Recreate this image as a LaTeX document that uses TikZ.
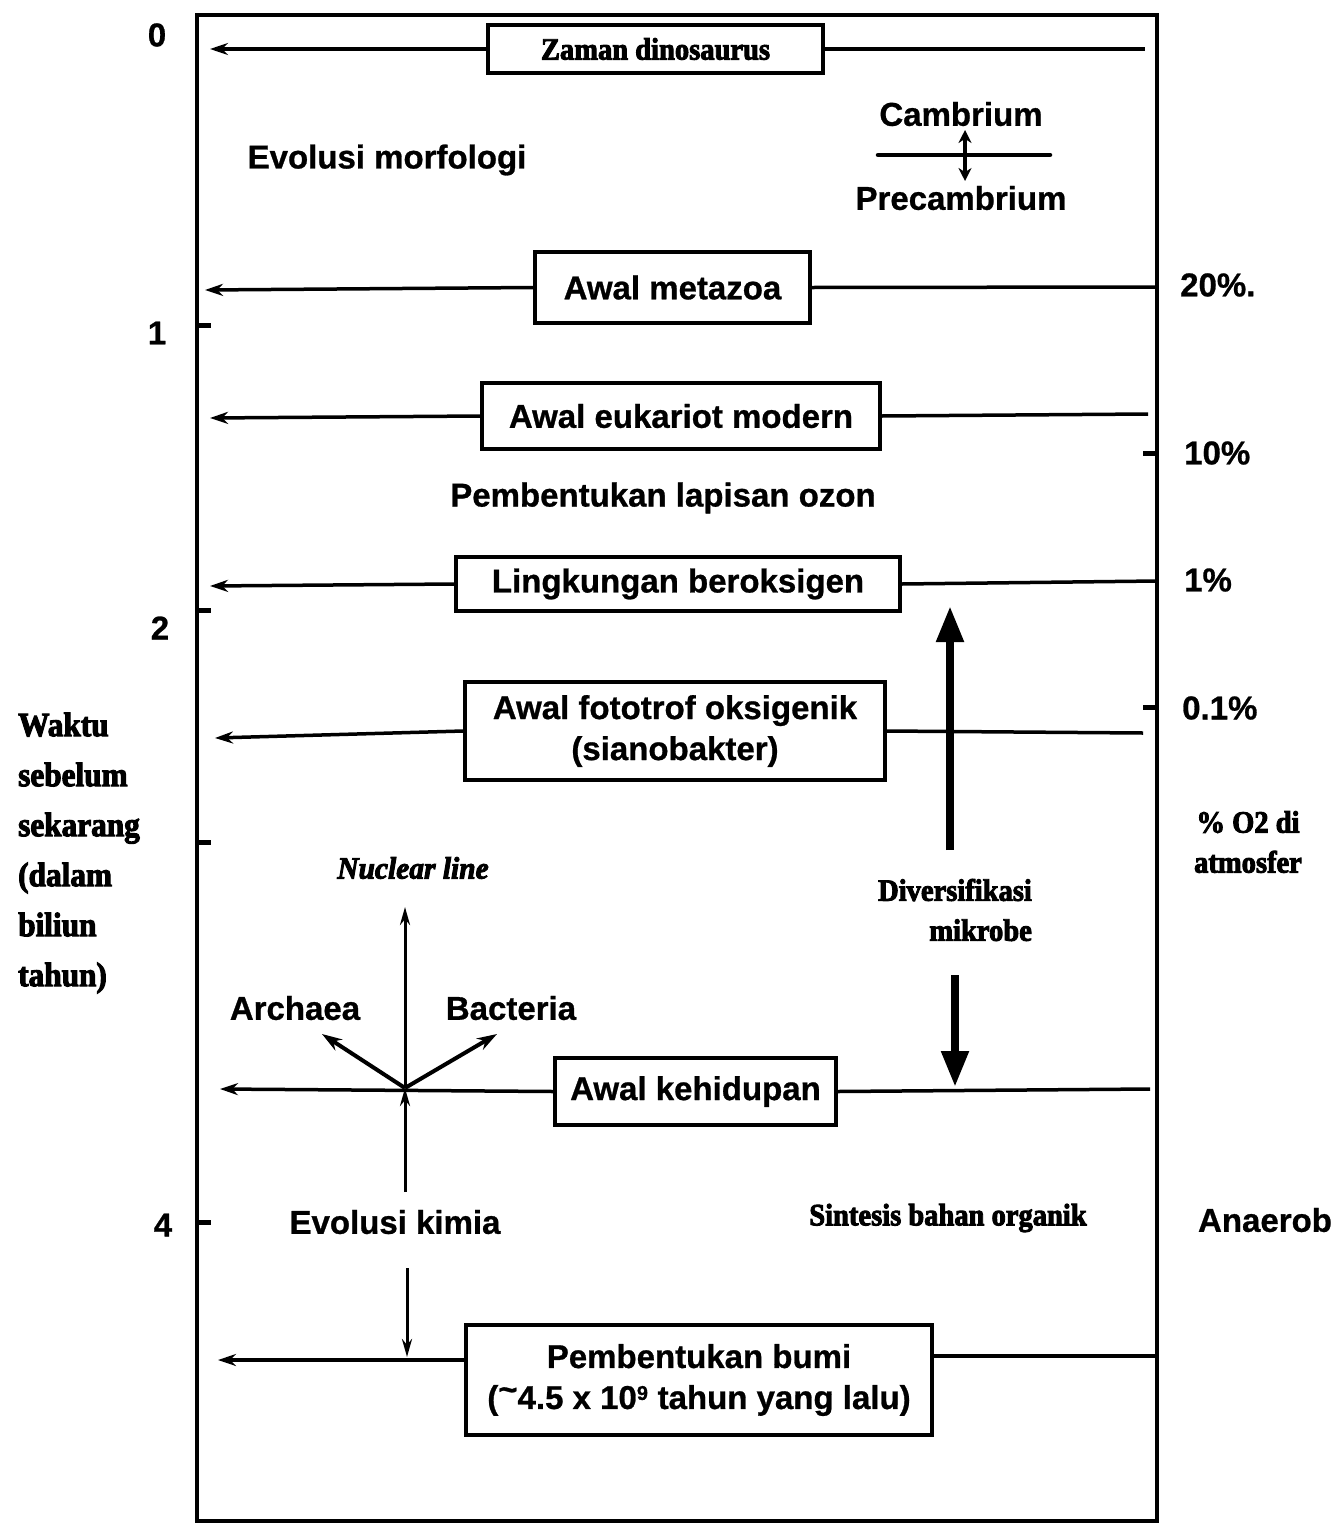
\documentclass[tikz,border=0pt]{standalone}
\usepackage{fontspec}
\setmainfont{Liberation Serif}
\setsansfont{Liberation Sans}
\newfontfamily\heavyserif{Liberation Serif}[BoldFeatures={FakeBold=3, FakeStretch=0.92}, BoldItalicFeatures={FakeBold=3, FakeStretch=0.95}]
\newfontfamily\heavysans{Liberation Sans}[BoldFeatures={FakeBold=0.8}]
\usetikzlibrary{arrows.meta,calc}
\tikzset{
  lbl/.style={font=\fontsize{33}{41}\selectfont\heavysans\bfseries, inner sep=0pt, align=center},
  srf/.style={font=\fontsize{31}{40}\selectfont\heavyserif\bfseries, inner sep=0pt, align=center},
  evbox/.style={draw, line width=3.5pt, lbl},
  conn/.style={line width=3.5pt},
  arr/.style={line width=3.5pt, -{Stealth[length=18pt,width=12pt]}},
  thinarr/.style={line width=3pt, -{Stealth[length=18pt,width=10pt]}},
  bigarr/.style={line width=8pt, -{Triangle[length=36pt,width=26pt]}},
  tickmark/.style={line width=5pt}
}
\begin{document}
\begin{tikzpicture}[x=1pt,y=-1pt]
\useasboundingbox (0,0) rectangle (1341,1523);
% frame
\node[draw, line width=4pt, minimum width=960pt, minimum height=1506pt, inner sep=0pt] (frame) at (677,768) {};
% left scale ticks and numbers
\draw[tickmark] (197,325) -- (211,325);
\draw[tickmark] (197,610) -- (211,610);
\draw[tickmark] (197,842) -- (211,842);
\draw[tickmark] (197,1222) -- (211,1222);
\node[lbl] (n0) at (157,35) {0};
\node[lbl] (n1) at (157,333) {1};
\node[lbl] (n2) at (160,628) {2};
\node[lbl] (n4) at (163,1225) {4};
% right ticks and O2 labels
\draw[tickmark] (1143,453) -- (1157,453);
\draw[tickmark] (1143,707) -- (1157,707);
\node[lbl, anchor=west] (p20) at (1180,285) {20\%.};
\node[lbl, anchor=west] (p10) at (1184,453) {10\%};
\node[lbl, anchor=west] (p1) at (1184,580) {1\%};
\node[lbl, anchor=west] (p01) at (1182,708) {0.1\%};
\node[srf] (o2) at (1248,842) {\% O2 di\\atmosfer};
\node[lbl] (anaer) at (1265,1220) {Anaerob};
% left axis title
\node[font=\fontsize{34}{50}\selectfont\heavyserif\bfseries, inner sep=0pt, align=left, anchor=west] (waktu) at (18,853)
  {Waktu\\sebelum\\sekarang\\(dalam\\biliun\\tahun)};
% boxes
\node[evbox, srf, minimum width=335pt, minimum height=48pt] (dino) at (655.5,49) {Zaman dinosaurus};
\node[evbox, minimum width=275pt, minimum height=71pt] (meta) at (672.5,287.5) {Awal metazoa};
\node[evbox, minimum width=398pt, minimum height=66pt] (euk) at (681,416) {Awal eukariot modern};
\node[evbox, minimum width=444pt, minimum height=54pt] (oks) at (678,584) {Lingkungan beroksigen};
\node[evbox, minimum width=420pt, minimum height=98pt] (foto) at (675,731) {Awal fototrof oksigenik\\(sianobakter)};
\node[evbox, minimum width=281pt, minimum height=67pt] (hid) at (695.5,1091.5) {Awal kehidupan};
\node[evbox, minimum width=466pt, minimum height=110pt] (bumi) at (699,1380) {Pembentukan bumi\\(\raisebox{0.25em}{\textasciitilde}4.5 x 10\textsuperscript{\fontsize{20}{20}\selectfont 9} tahun yang lalu)};
% end points of time lines
\coordinate (dinoL) at (210,49);  \coordinate (dinoR) at (1145,49);
\coordinate (metaL) at (205,290); \coordinate (metaR) at (1157,287);
\coordinate (eukL) at (210,418);  \coordinate (eukR) at (1148,414);
\coordinate (oksL) at (210,586);  \coordinate (oksR) at (1157,581);
\coordinate (fotoL) at (215,738); \coordinate (fotoR) at (1143,733);
\coordinate (hidL) at (220,1089); \coordinate (hidR) at (1150,1089);
\coordinate (bumiL) at (218,1360); \coordinate (bumiR) at (1157,1356);
\draw[arr] (dino.west) -- (dinoL);  \draw[conn] (dino.east) -- (dinoR);
\draw[arr] (meta.west) -- (metaL);  \draw[conn] (meta.east) -- (metaR);
\draw[arr] (euk.west) -- (eukL);    \draw[conn] (euk.east) -- (eukR);
\draw[arr] (oks.west) -- (oksL);    \draw[conn] (oks.east) -- (oksR);
\draw[arr] (foto.west) -- (fotoL);  \draw[conn] (foto.east) -- (fotoR);
\draw[arr] (hid.west) -- (hidL);    \draw[conn] (hid.east) -- (hidR);
\draw[arr] (bumi.west |- bumiL) -- (bumiL); \draw[conn] (bumi.east |- bumiR) -- (bumiR);
% texts inside frame
\node[lbl] (morf) at (387,160) {Evolusi morfologi};
\node[lbl] (camb) at (961,114) {Cambrium};
\node[lbl] (precamb) at (961,198) {Precambrium};
\coordinate (cbL) at (878,155); \coordinate (cbR) at (1050,155);
\draw[line width=4.5pt, line cap=round] (cbL) -- (cbR);
\coordinate (cbT) at (965,130); \coordinate (cbB) at (965,181);
\draw[line width=3.5pt, {Stealth[length=13pt,width=13pt]}-{Stealth[length=13pt,width=13pt]}] (cbT) -- (cbB);
\node[lbl] (ozon) at (663,498) {Pembentukan lapisan ozon};
% microbial diversification
\node[srf, align=right] (div) at (955,910) {Diversifikasi\\mikrobe};
\coordinate (divUa) at (950,850); \coordinate (divUb) at (950,606);
\draw[bigarr] (divUa) -- (divUb);
\coordinate (divDa) at (955,975); \coordinate (divDb) at (955,1087);
\draw[bigarr] (divDa) -- (divDb);
% nuclear line fan
\node[font=\fontsize{31}{36}\selectfont\heavyserif\bfseries\itshape, inner sep=0pt] (nuc) at (413,868) {Nuclear line};
\node[lbl] (arch) at (295,1008) {Archaea};
\node[lbl] (bact) at (511,1008) {Bacteria};
\coordinate (cross) at (405,1088);
\coordinate (nucT) at (405,907);
\coordinate (archT) at (322,1034);
\coordinate (bactT) at (497,1034);
\draw[thinarr] (cross) -- (nucT);
\draw[line width=4pt, -{Stealth[length=20pt,width=13pt]}] (cross) -- (archT);
\draw[line width=4pt, -{Stealth[length=20pt,width=13pt]}] (cross) -- (bactT);
\node[lbl] (kimia) at (395,1222) {Evolusi kimia};
\coordinate (kimUp) at (405,1192);
\draw[thinarr] (kimUp) -- (cross);
\coordinate (kimDa) at (407,1268); \coordinate (kimDb) at (407,1357);
\draw[thinarr] (kimDa) -- (kimDb);
\node[srf] (sint) at (948,1218) {Sintesis bahan organik};
\end{tikzpicture}
\end{document}
